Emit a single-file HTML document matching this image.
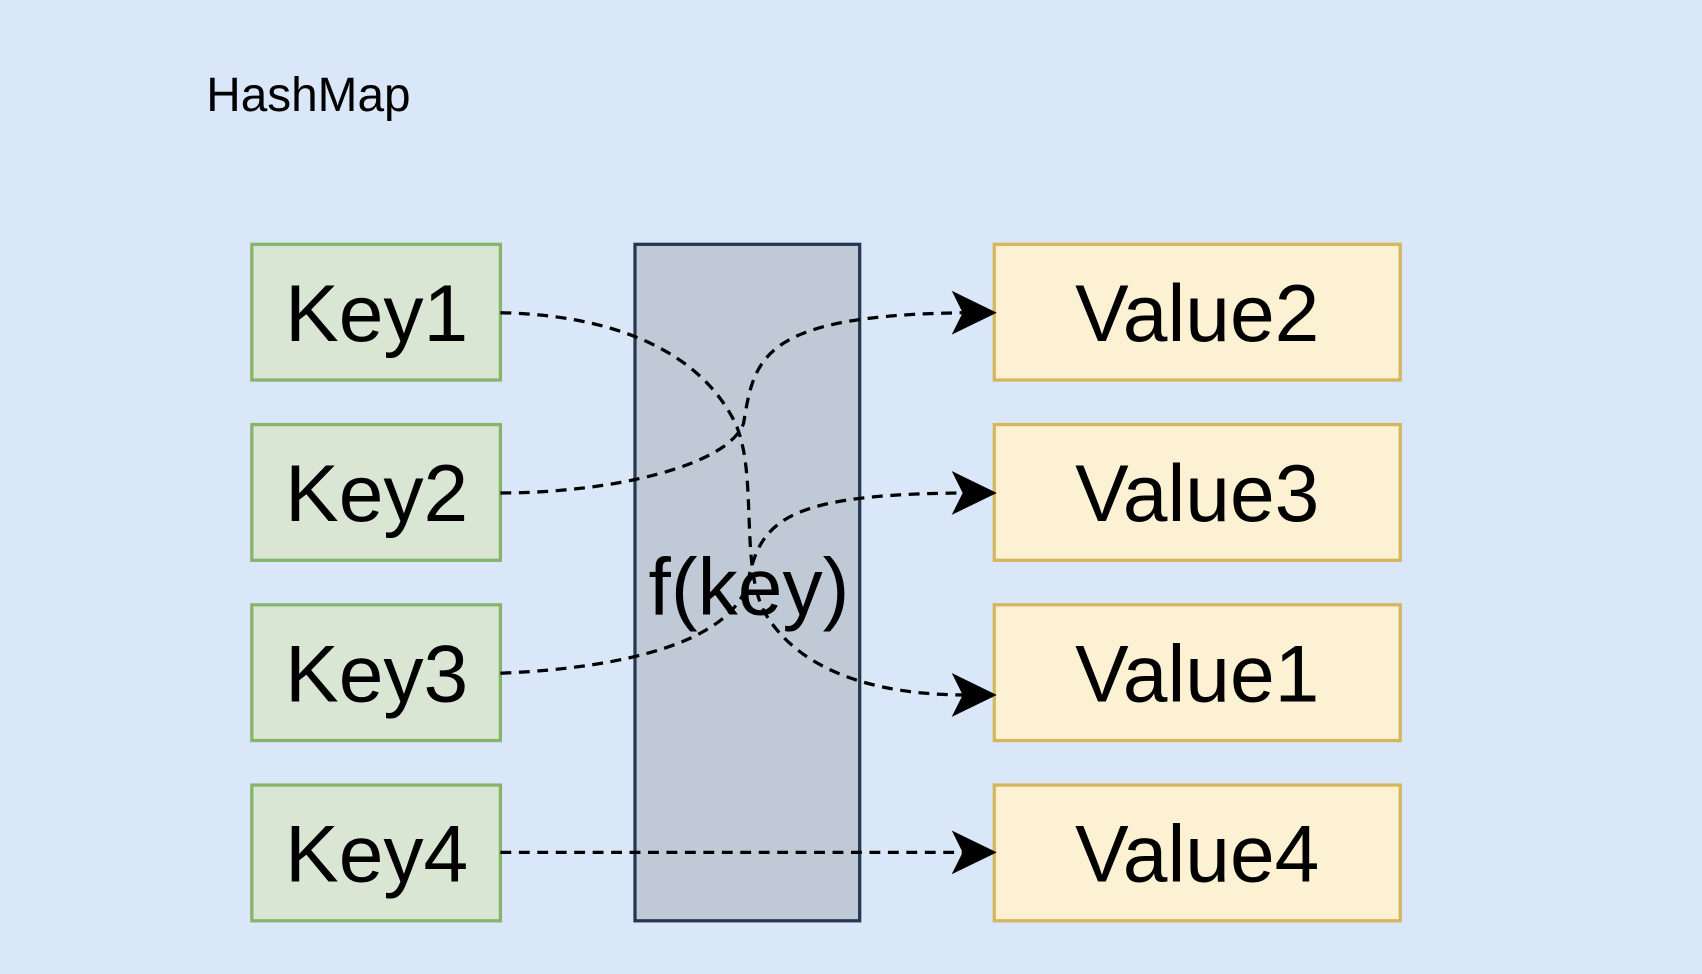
<!DOCTYPE html>
<html><head><meta charset="utf-8"><style>
html,body{margin:0;padding:0;background:#dae7f8;}
svg{display:block}
text{font-family:"Liberation Sans",sans-serif;fill:#000}
</style></head><body>
<svg width="1702" height="974" viewBox="0 0 1568 897" preserveAspectRatio="none">
<rect x="0" y="0" width="1568" height="897" fill="#dae7f8"/>
<text x="190" y="102" font-size="44">HashMap</text>
<rect x="585" y="225" width="207" height="623" fill="#bfcad6" stroke="#253852" stroke-width="3"/>
<g fill="#d8e6d3" stroke="#86b46a" stroke-width="3">
<rect x="232" y="225" width="229" height="125"/>
<rect x="232" y="391" width="229" height="125"/>
<rect x="232" y="557" width="229" height="125"/>
<rect x="232" y="723" width="229" height="125"/>
</g>
<g fill="#fcf1d2" stroke="#d6b65c" stroke-width="3">
<rect x="916" y="225" width="374" height="125"/>
<rect x="916" y="391" width="374" height="125"/>
<rect x="916" y="557" width="374" height="125"/>
<rect x="916" y="723" width="374" height="125"/>
</g>
<g font-size="74" text-anchor="middle">
<text x="347" y="314">Key1</text>
<text x="347" y="480">Key2</text>
<text x="347" y="646">Key3</text>
<text x="347" y="812">Key4</text>
<text x="1103" y="314">Value2</text>
<text x="1103" y="480">Value3</text>
<text x="1103" y="646">Value1</text>
<text x="1103" y="812">Value4</text>
<text x="690" y="566">f(key)</text>
</g>
<g fill="none" stroke="#000" stroke-width="3" stroke-dasharray="10,7">
<path d="M461,288 C560,290 640,320 675,385 C700,430 680,520 705,565 C735,615 800,640 890,640"/>
<path d="M461,454 C560,454 670,430 685,390 C695,330 700,290 890,288"/>
<path d="M461,620 C580,615 670,590 688,540 C700,480 720,455 890,454"/>
<path d="M461,785 L890,785"/>
</g>
<g fill="#000" stroke="#000" stroke-width="2" stroke-linejoin="miter">
<path d="M916,288 L879,270 L888,288 L879,306 Z"/>
<path d="M916,454 L879,436 L888,454 L879,472 Z"/>
<path d="M916,640 L879,622 L888,640 L879,658 Z"/>
<path d="M916,785 L879,767 L888,785 L879,803 Z"/>
</g>
</svg>
</body></html>
